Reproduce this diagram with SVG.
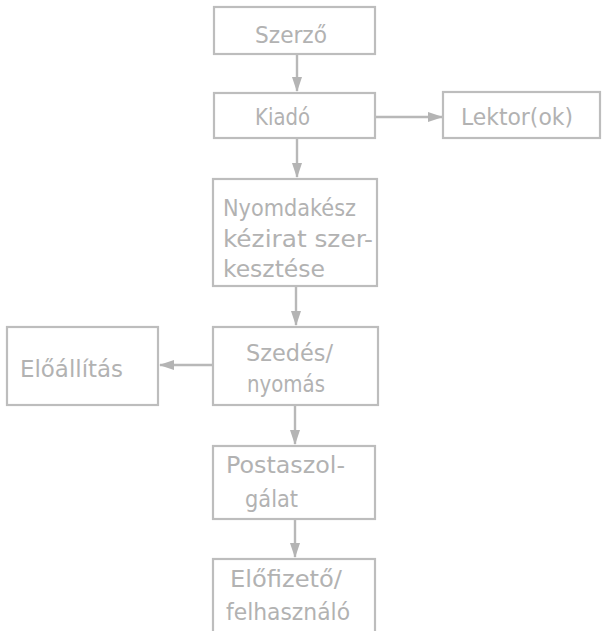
<svg xmlns="http://www.w3.org/2000/svg" width="602" height="631" viewBox="0 0 602 631">
<defs>
<marker id="ah" viewBox="0 0 15 10" refX="14" refY="5" markerWidth="15" markerHeight="10" markerUnits="userSpaceOnUse" orient="auto">
<path d="M0,0 L15,5 L0,10 Z" fill="#b4b4b4"/>
</marker>
<style>
.box{fill:#fff;stroke:#bdbdbd;stroke-width:2.2}
.t{font-family:"DejaVu Sans Condensed","DejaVu Sans",sans-serif;font-size:23px;fill:#b2b2b2}
.c{fill:none;stroke:#b8b8b8;stroke-width:2.4;marker-end:url(#ah)}
</style>
</defs>
<rect width="602" height="631" fill="#fff"/>
<g id="connectors">
<line class="c" x1="297" y1="54" x2="297" y2="91"/>
<line class="c" x1="375" y1="117" x2="442" y2="117"/>
<line class="c" x1="297" y1="138" x2="297" y2="177"/>
<line class="c" x1="296" y1="286" x2="296" y2="325"/>
<line class="c" x1="213" y1="365" x2="160" y2="365"/>
<line class="c" x1="295" y1="405" x2="295" y2="444"/>
<line class="c" x1="295" y1="519" x2="295" y2="557"/>
</g>
<g id="szerzo">
<rect class="box" x="214" y="7" width="161" height="47"/>
<text class="t" x="255" y="43" textLength="72" lengthAdjust="spacingAndGlyphs">Szerző</text>
</g>
<g id="kiado">
<rect class="box" x="214" y="93" width="161" height="45"/>
<text class="t" x="255" y="125" textLength="55" lengthAdjust="spacingAndGlyphs">Kiadó</text>
</g>
<g id="lektor">
<rect class="box" x="443" y="92" width="157" height="46"/>
<text class="t" x="461" y="125" textLength="112" lengthAdjust="spacingAndGlyphs">Lektor(ok)</text>
</g>
<g id="nyomdakesz">
<rect class="box" x="213" y="179" width="164" height="107"/>
<text class="t" x="223" y="216" textLength="133" lengthAdjust="spacingAndGlyphs">Nyomdakész</text>
<text class="t" x="223" y="247" textLength="150" lengthAdjust="spacingAndGlyphs">kézirat szer-</text>
<text class="t" x="223" y="277" textLength="102" lengthAdjust="spacingAndGlyphs">kesztése</text>
</g>
<g id="elaallitas">
<rect class="box" x="7" y="327" width="151" height="78"/>
<text class="t" x="20" y="377" textLength="103" lengthAdjust="spacingAndGlyphs">Előállítás</text>
</g>
<g id="szedes">
<rect class="box" x="213" y="327" width="165" height="78"/>
<text class="t" x="246" y="361" textLength="87" lengthAdjust="spacingAndGlyphs">Szedés/</text>
<text class="t" x="247" y="392" textLength="78" lengthAdjust="spacingAndGlyphs">nyomás</text>
</g>
<g id="posta">
<rect class="box" x="213" y="446" width="162" height="73"/>
<text class="t" x="226" y="473" textLength="119" lengthAdjust="spacingAndGlyphs">Postaszol-</text>
<text class="t" x="245" y="507" textLength="53" lengthAdjust="spacingAndGlyphs">gálat</text>
</g>
<g id="elofizeto">
<rect class="box" x="213" y="559" width="162" height="80"/>
<text class="t" x="230" y="587" textLength="112" lengthAdjust="spacingAndGlyphs">Előfizető/</text>
<text class="t" x="226" y="620" textLength="124" lengthAdjust="spacingAndGlyphs">felhasználó</text>
</g>
</svg>
